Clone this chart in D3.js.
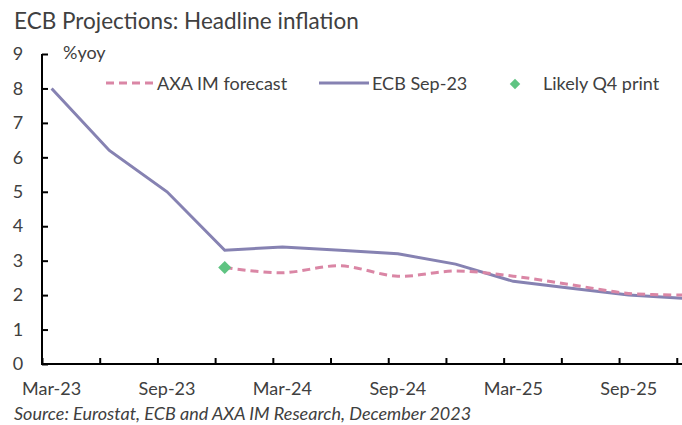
<!DOCTYPE html>
<html>
<head>
<meta charset="utf-8">
<script src="https://cdn.jsdelivr.net/npm/d3@7"></script>
<style>
  body { margin: 0; background: #fff; }
  svg { display: block; overflow: hidden; }
  text { font-family: Lato, "Open Sans", sans-serif; fill: #404040; }
</style>
</head>
<body>
<div id="chart"></div>
<script>
// quarterly points, indexed in months from Mar-23
var quarters = ['Mar-23', 'Jun-23', 'Sep-23', 'Dec-23', 'Mar-24', 'Jun-24', 'Sep-24', 'Dec-24',
                'Mar-25', 'Jun-25', 'Sep-25', 'Dec-25'];
var ecbSep23 = [8.0, 6.2, 5.0, 3.3, 3.4, 3.3, 3.2, 2.9, 2.4, 2.2, 2.0, 1.9];
// AXA IM forecast starts at Dec-23
var axaForecast = [null, null, null, 2.8, 2.65, 2.85, 2.55, 2.7, 2.55, 2.3, 2.05, 2.0];
var likelyQ4 = [{ q: 'Dec-23', v: 2.8 }];
var xLabels = ['Mar-23', 'Sep-23', 'Mar-24', 'Sep-24', 'Mar-25', 'Sep-25'];
var yTicks = [0, 1, 2, 3, 4, 5, 6, 7, 8, 9];

var width = 682, height = 425;
var fs = 18;

var svg = d3.select('#chart').append('svg')
    .attr('width', width).attr('height', height);

// month slot scale: each month is a slot, points sit in the middle of their slot
var x = d3.scaleLinear().domain([0, 34]).range([42, 696]);
var y = d3.scaleLinear().domain([0, 9]).range([364, 54]);

function monthOf(q) { return quarters.indexOf(q) * 3; }
function px(q) { return x(monthOf(q) + 0.5); }

svg.append('text')
   .attr('x', 14).attr('y', 29)
   .attr('font-size', 22.5)
   .attr('fill', '#262626')
   .text('ECB Projections: Headline inflation');

// y axis, ticks pointing inward
var yAxis = d3.axisLeft(y).tickValues(yTicks).tickSize(-6).tickPadding(20);
var gy = svg.append('g').attr('transform', 'translate(42,0)').call(yAxis);
gy.select('.domain').attr('stroke', '#000').attr('stroke-width', 2).attr('d', 'M0,54V364');
gy.selectAll('.tick line').attr('stroke', '#000').attr('stroke-width', 2);
gy.selectAll('.tick text')
  .attr('font-family', 'Lato, "Open Sans", sans-serif')
  .attr('font-size', fs).attr('fill', '#404040')
  .attr('text-anchor', 'middle').attr('x', -24);

// x axis: ticks every quarter at slot starts, labels every half year
var tickMonths = d3.range(0, 35, 3);
var xAxis = d3.axisBottom(x).tickValues(tickMonths).tickSize(-6).tickFormat('');
var gx = svg.append('g').attr('transform', 'translate(0,364)').call(xAxis);
gx.select('.domain').attr('stroke', '#000').attr('stroke-width', 2).attr('d', 'M41,0H696');
gx.selectAll('.tick line').attr('stroke', '#000').attr('stroke-width', 2);

svg.selectAll('.xlabel')
   .data(xLabels)
   .enter().append('text')
   .attr('class', 'xlabel')
   .attr('x', function (d) { return px(d); })
   .attr('y', 395)
   .attr('text-anchor', 'middle')
   .attr('font-size', fs)
   .text(function (d) { return d; });

svg.append('text')
   .attr('x', 63).attr('y', 59)
   .attr('font-size', fs)
   .text('%yoy');

// ECB Sep-23 line
var ecbLine = d3.line()
    .x(function (d, i) { return px(quarters[i]); })
    .y(function (d) { return y(d); });
svg.append('path')
   .datum(ecbSep23)
   .attr('fill', 'none')
   .attr('stroke', '#8682B2')
   .attr('stroke-width', 3)
   .attr('d', ecbLine);

// AXA IM forecast, smoothed dashed
var axaLine = d3.line()
    .defined(function (d) { return d != null; })
    .x(function (d, i) { return px(quarters[i]); })
    .y(function (d) { return y(d); })
    .curve(d3.curveCatmullRom.alpha(0.5));
svg.append('path')
   .datum(axaForecast)
   .attr('fill', 'none')
   .attr('stroke', '#DA86A5')
   .attr('stroke-width', 3)
   .attr('stroke-dasharray', '8,5')
   .attr('d', axaLine);

var diamond = d3.symbol().type(d3.symbolDiamond2).size(110);
svg.selectAll('.q4')
   .data(likelyQ4)
   .enter().append('path')
   .attr('class', 'q4')
   .attr('transform', function (d) { return 'translate(' + px(d.q) + ',' + y(d.v) + ')'; })
   .attr('fill', '#5FC482')
   .attr('d', diamond);

// legend
var legend = svg.append('g');
legend.append('line')
      .attr('x1', 106).attr('x2', 154).attr('y1', 83).attr('y2', 83)
      .attr('stroke', '#DA86A5').attr('stroke-width', 3).attr('stroke-dasharray', '8,5');
legend.append('text').attr('x', 157).attr('y', 90).attr('font-size', fs).text('AXA IM forecast');
legend.append('line')
      .attr('x1', 319).attr('x2', 369).attr('y1', 83).attr('y2', 83)
      .attr('stroke', '#8682B2').attr('stroke-width', 3);
legend.append('text').attr('x', 372).attr('y', 90).attr('font-size', fs).text('ECB Sep-23');
legend.append('path')
      .attr('transform', 'translate(515,84)')
      .attr('fill', '#5FC482')
      .attr('d', d3.symbol().type(d3.symbolDiamond2).size(70));
legend.append('text').attr('x', 543).attr('y', 90).attr('font-size', fs).text('Likely Q4 print');

svg.append('text')
   .attr('x', 14).attr('y', 420)
   .attr('font-size', fs)
   .attr('font-style', 'italic')
   .text('Source: Eurostat, ECB and AXA IM Research, December 2023');
</script>
</body>
</html>
